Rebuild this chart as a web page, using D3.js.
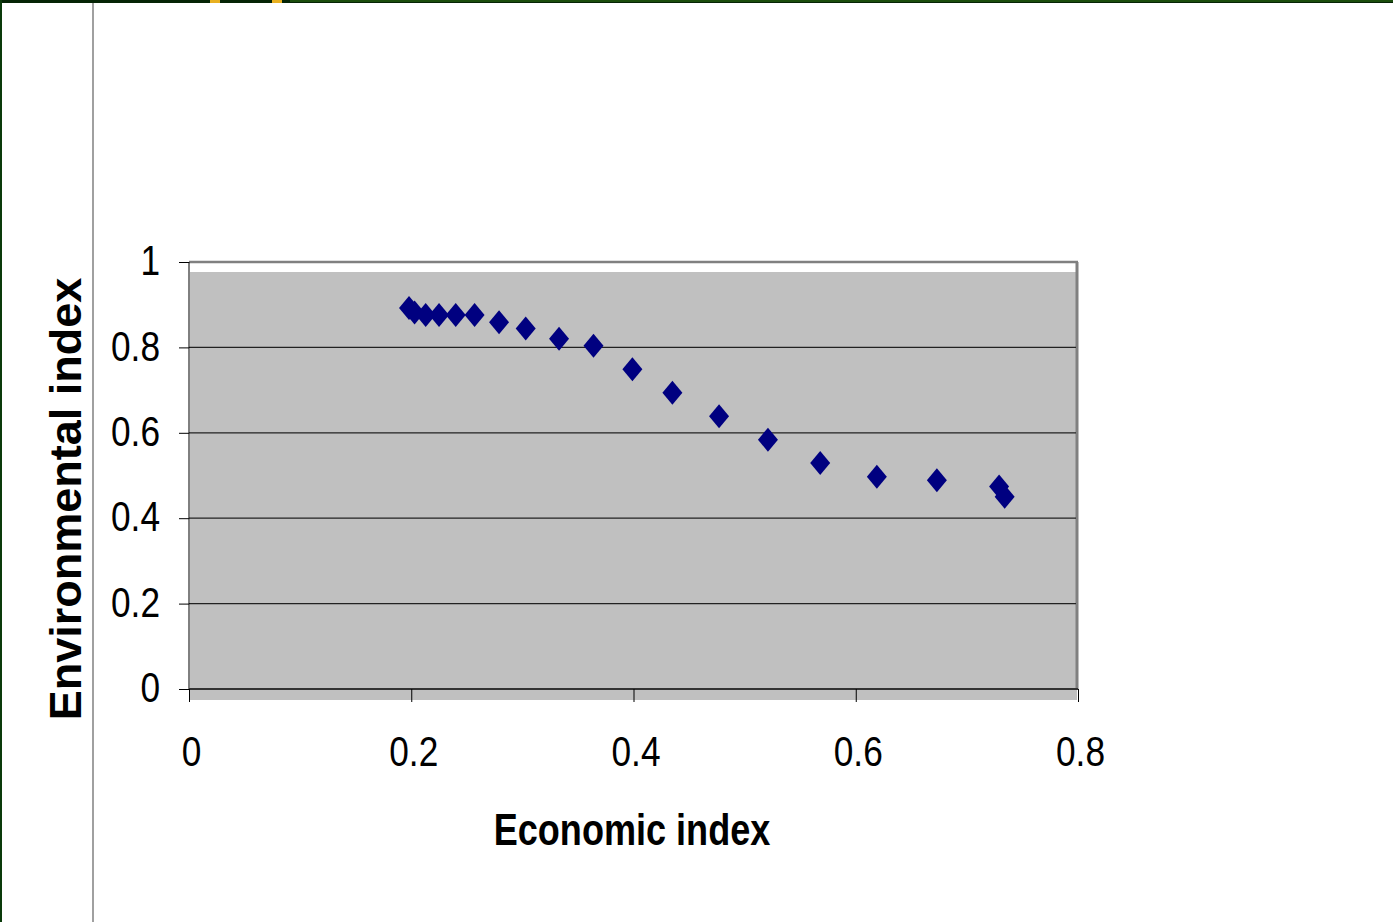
<!DOCTYPE html>
<html><head><meta charset="utf-8">
<script src="https://cdn.jsdelivr.net/npm/d3@7"></script>
<style>html,body{margin:0;padding:0;background:#fff;overflow:hidden}</style>
</head><body>
<script>
const econ = [0.198,0.203,0.213,0.225,0.240,0.257,0.279,0.303,0.333,0.364,0.399,0.435,0.477,0.521,0.568,0.619,0.673,0.729,0.734];
const envi = [0.892,0.882,0.876,0.876,0.876,0.876,0.859,0.844,0.820,0.804,0.749,0.694,0.639,0.584,0.529,0.497,0.489,0.474,0.450];
const xTicks = [0,0.2,0.4,0.6,0.8];
const yTicks = [0,0.2,0.4,0.6,0.8,1];
const xTitle = "Economic index";
const yTitle = "Environmental index";

const W=1393,H=922;
const svg=d3.select("body").append("svg").attr("width",W).attr("height",H);
svg.append("rect").attr("x",0).attr("y",0).attr("width",W).attr("height",3).attr("fill","#052405");
svg.append("rect").attr("x",290).attr("y",0).attr("width",W-290).attr("height",2).attr("fill","#1b4d0c");
svg.append("rect").attr("x",210).attr("y",0).attr("width",10).attr("height",3).attr("fill","#e8b020");
svg.append("rect").attr("x",272).attr("y",0).attr("width",10).attr("height",3).attr("fill","#e8b020");
svg.append("rect").attr("x",0).attr("y",0).attr("width",2).attr("height",H).attr("fill","#0a3a0a");
svg.append("line").attr("x1",93).attr("x2",93).attr("y1",3).attr("y2",H).attr("stroke","#808080").attr("stroke-width",1.5);

const L=189,R=1078,T=262,B=689;
const x=d3.scaleLinear().domain([0,0.8]).range([L,R]);
const y=d3.scaleLinear().domain([0,1]).range([B,T]);

svg.append("rect").attr("x",L+1).attr("y",T+10).attr("width",R-L-2).attr("height",B-T+1).attr("fill","#c0c0c0");
svg.append("line").attr("x1",L).attr("x2",R).attr("y1",T).attr("y2",T).attr("stroke","#808080").attr("stroke-width",2.5);
svg.append("line").attr("x1",R-1).attr("x2",R-1).attr("y1",T).attr("y2",B).attr("stroke","#808080").attr("stroke-width",3);

svg.append("g").selectAll("line").data(yTicks.filter(d=>d>0&&d<1)).join("line")
  .attr("x1",L).attr("x2",R-2).attr("y1",d=>y(d)).attr("y2",d=>y(d))
  .attr("stroke","#222").attr("stroke-width",1.3);

const tickFont='"Liberation Sans Narrow","Arial Narrow","Liberation Sans",Arial,sans-serif';
const SX=0.82;
const ya=svg.append("g").attr("transform",`translate(${L},0)`)
  .call(d3.axisLeft(y).tickValues(yTicks).tickSize(10).tickPadding(18).tickFormat(d=>d3.format("")(d)));
ya.select(".domain").attr("stroke","#000").attr("d",`M0,${T}V${B}`);
ya.selectAll("text").attr("font-family",tickFont).attr("font-size",43).attr("fill","#000")
  .attr("x",0).attr("transform",`translate(-29,-1) scale(${SX},1)`);
const xa=svg.append("g").attr("transform",`translate(0,${B})`)
  .call(d3.axisBottom(x).tickValues(xTicks).tickSize(13).tickPadding(30).tickFormat(d=>d3.format("")(d)));
xa.select(".domain").attr("stroke","#333").attr("stroke-width",2).attr("d",`M${L},0H${R}`);
xa.selectAll("text").attr("font-family",tickFont).attr("font-size",43).attr("fill","#000")
  .attr("y",0).attr("transform",`translate(2,46) scale(${SX},1)`);

const pts=econ.map((e,i)=>({x:e,y:envi[i]}));
svg.append("g").selectAll("path").data(pts).join("path")
  .attr("transform",d=>`translate(${x(d.x)},${y(d.y)})`)
  .attr("d","M0,-12L10,0L0,12L-10,0Z").attr("fill","#000080");

svg.append("text").attr("transform",`translate(632,845) scale(${SX},1)`).attr("text-anchor","middle")
  .attr("font-family",tickFont).attr("font-weight","bold").attr("font-size",44).text(xTitle);
svg.append("text").attr("transform","translate(81,499) rotate(-90)").attr("text-anchor","middle")
  .attr("font-family",'"Liberation Sans",Arial,sans-serif').attr("font-weight","bold").attr("font-size",45).text(yTitle);
</script>
</body></html>
